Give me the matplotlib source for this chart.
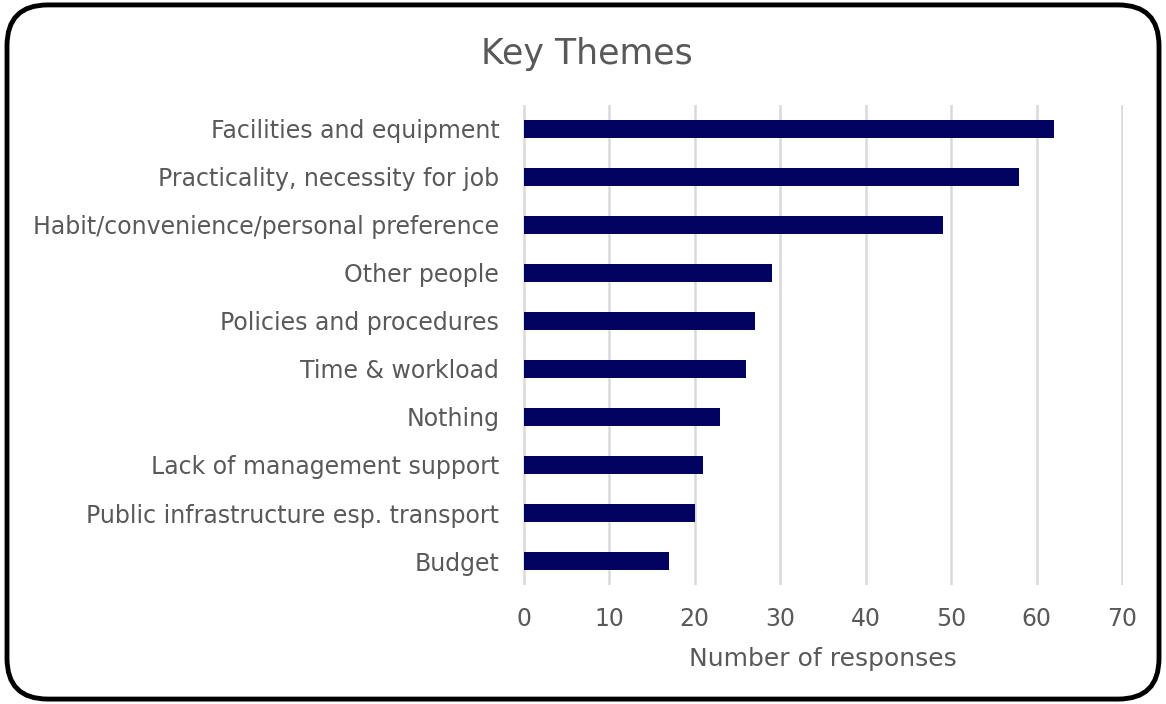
import matplotlib.pyplot as plt
from matplotlib.patches import FancyBboxPatch

# Data
themes = [
    'Facilities and equipment',
    'Practicality, necessity for job',
    'Habit/convenience/personal preference',
    'Other people',
    'Policies and procedures',
    'Time & workload',
    'Nothing',
    'Lack of management support',
    'Public infrastructure esp. transport',
    'Budget',
]
responses = [62, 58, 49, 29, 27, 26, 23, 21, 20, 17]
xticks = [0, 10, 20, 30, 40, 50, 60, 70]

plt.rcParams['font.family'] = ['DejaVu Sans']
text_color = '#595959'

fig = plt.figure(figsize=(11.66, 7.04), dpi=100)
ax = fig.add_axes([0.4485, 0.169, 0.5145, 0.682])

ypos = list(range(len(themes)))[::-1]
ax.barh(ypos, responses, height=0.37, color='#020260', zorder=3)

ax.set_xlim(-0.1, 70.1)
ax.set_ylim(-0.5, len(themes) - 0.5)
ax.set_xticks(xticks)
ax.set_xticklabels([str(t) for t in xticks], fontsize=17, color=text_color)
ax.set_yticks(ypos)
ax.set_yticklabels(themes, fontsize=17, color=text_color)
ax.tick_params(axis='both', length=0)
ax.tick_params(axis='x', pad=16)
ax.tick_params(axis='y', pad=17)

ax.grid(axis='x', color='#d9d9d9', linewidth=1.8, zorder=0)
for s in ax.spines.values():
    s.set_visible(False)

ax.set_xlabel('Number of responses', fontsize=18, color=text_color, labelpad=11)
fig.text(0.503, 0.924, 'Key Themes', ha='center', va='center', fontsize=25, color=text_color)

# Rounded border
border = FancyBboxPatch((0.006, 0.007), 0.988, 0.986,
                        boxstyle='round,pad=0,rounding_size=0.035',
                        transform=fig.transFigure, fill=False,
                        edgecolor='black', linewidth=3.5, mutation_aspect=1166/704)
fig.patches.append(border)

plt.savefig('out.png', dpi=100)
